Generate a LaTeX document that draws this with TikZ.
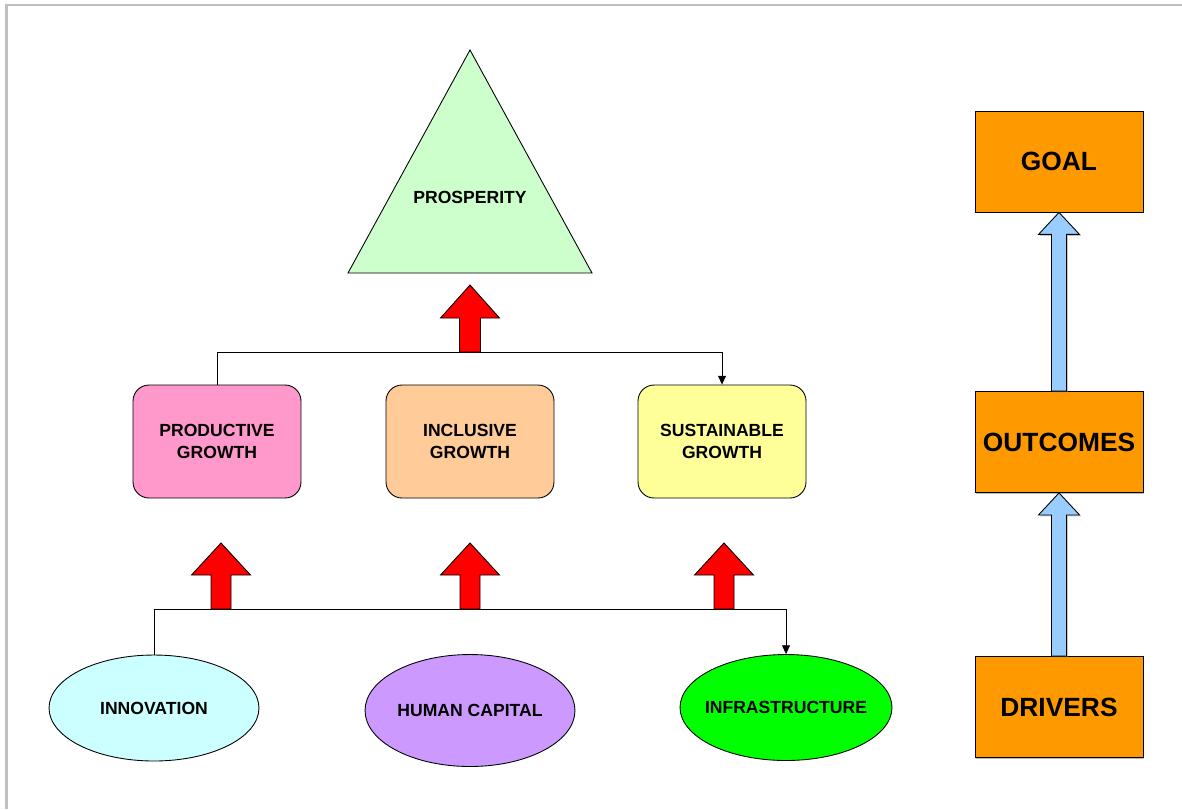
\documentclass[tikz,border=0pt]{standalone}
\usepackage{fontspec}
\setmainfont{Liberation Sans}
\usetikzlibrary{shapes.geometric,arrows.meta,calc,shadows}

\definecolor{framegray}{HTML}{C0C0C0}
\definecolor{prosgreen}{HTML}{CCFFCC}
\definecolor{prodpink}{HTML}{FF99CC}
\definecolor{inclpeach}{HTML}{FFCC99}
\definecolor{sustyellow}{HTML}{FFFF99}
\definecolor{innocyan}{HTML}{CCFFFF}
\definecolor{humanlilac}{HTML}{CC99FF}
\definecolor{infragreen}{HTML}{00FF00}
\definecolor{lvorange}{HTML}{FF9900}
\definecolor{lvblue}{HTML}{99CCFF}

\tikzset{every node/.style={font=\bfseries\fontsize{10}{13}\selectfont,align=center}}
\tikzstyle{growth} = [draw,rounded corners=0.32cm,minimum width=3.36cm,minimum height=2.26cm]
\tikzstyle{driver} = [draw,ellipse,inner sep=0pt,minimum width=4.2cm,minimum height=2.12cm]
\tikzstyle{level} = [draw,fill=lvorange,minimum width=3.36cm,minimum height=2.02cm,
  drop shadow={shadow xshift=0.8pt,shadow yshift=-0.8pt,fill=black!55},
  font=\bfseries\fontsize{15}{18}\selectfont]
\tikzstyle{link} = [draw,-{Triangle[length=5pt,width=4.5pt]}]
\tikzstyle{redarrow} = [draw,fill=red]
\tikzstyle{bluearrow} = [draw,fill=lvblue,drop shadow={shadow xshift=0.8pt,shadow yshift=-0.8pt,fill=black!45}]

% block arrow: style, base, tip, shaft half width, head half width, head length
\newcommand{\blockup}[6]{%
  \draw[#1] ($(#2)+(-#4,0)$) -- ($(#3)+(-#4,#6)$) -- ($(#3)+(-#5,#6)$) -- (#3)
    -- ($(#3)+(#5,#6)$) -- ($(#3)+(#4,#6)$) -- ($(#2)+(#4,0)$) -- cycle;}

\begin{document}
\begin{tikzpicture}[x=0.02cm,y=-0.02cm,line width=0.5pt]
\useasboundingbox (0,0) rectangle (1182,809);
\draw [framegray,line width=1.7pt] (6.5,809) -- (6.5,5) -- (1182,5);

% goal
\draw [fill=prosgreen] (470,50) -- (592,273) -- (348,273) -- cycle;
\node (prosperity) at (470,197) {PROSPERITY};

% outcomes
\node[growth,fill=prodpink] (productive) at (217,441.5) {PRODUCTIVE\\GROWTH};
\node[growth,fill=inclpeach] (inclusive) at (470,441.5) {INCLUSIVE\\GROWTH};
\node[growth,fill=sustyellow] (sustainable) at (722,441.5) {SUSTAINABLE\\GROWTH};

% drivers
\node[driver,fill=innocyan] (innovation) at (154,708) {INNOVATION};
\node[driver,fill=humanlilac,minimum height=2.24cm] (humancap) at (470,710.5) {HUMAN CAPITAL};
\node[driver,fill=infragreen,minimum width=4.24cm] (infra) at (786,707.5) {\makebox[2.8cm]{INFRASTRUCTURE}};

\coordinate (topbar) at (470,352);
\coordinate (botbar) at (470,609);
\draw [link] (productive.north) |- (topbar) -| (sustainable.north);
\draw [link] (innovation.north) |- (botbar) -| (infra.north);

\blockup{redarrow}{topbar}{470,285}{10.5}{29.5}{33}
\blockup{redarrow}{221,609}{221,543}{10}{29.5}{32}
\blockup{redarrow}{470,609}{470,543}{10}{29.5}{32}
\blockup{redarrow}{724,609}{724,543}{10}{29.5}{32}

% legend
\node[level] (goal) at (1059,161.5) {GOAL};
\node[level] (outcomes) at (1059,442) {OUTCOMES};
\node[level] (drivers) at (1059,707) {DRIVERS};
\blockup{bluearrow}{outcomes.north}{goal.south}{7.5}{20.5}{22}
\blockup{bluearrow}{drivers.north}{outcomes.south}{7.5}{20.5}{22}
\end{tikzpicture}
\end{document}
